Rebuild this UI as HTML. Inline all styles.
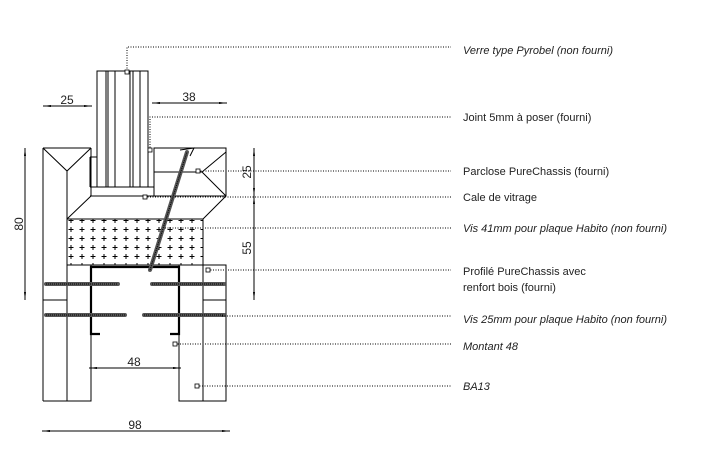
<!DOCTYPE html>
<html><head><meta charset="utf-8"><style>
html,body{margin:0;padding:0;background:#fff;}
svg{display:block}
text{font-family:"Liberation Sans",sans-serif;fill:#222;}
.l{font-size:11px;}
</style></head><body>
<svg width="715" height="458" viewBox="0 0 715 458" xmlns="http://www.w3.org/2000/svg">
<defs>
<pattern id="cr" width="11" height="9" patternUnits="userSpaceOnUse">
<path d="M5 2v5M2.5 4.5h5" stroke="#000" stroke-width="1"/>
</pattern>
<marker id="a" markerWidth="8" markerHeight="6" refX="8" refY="3" orient="auto"><path d="M0,2 L8,3 L0,4z" fill="#000"/></marker>
</defs>
<g fill="none" stroke="#000" stroke-width="1">
<!-- glass -->
<rect x="97" y="71" width="51" height="116"/>
<path d="M106 71V187M108 71V187M115 71V187M130 71V187M133 71V187M140 71V187"/>
<!-- left top block -->
<path d="M43 148H91M43 148L67 171L91 148M43 148V401M67 171V401M91 148V196"/>
<!-- joint left small -->
<path d="M90 157H97M90 157V187"/>
<!-- right parclose -->
<rect x="154" y="148" width="72" height="48"/>
<path d="M154 172H202M202 172L226 152M202 172L226 196"/>
<path d="M90 187H154M90 196H226"/>
<!-- trapezoid -->
<path d="M91 196L67 219M226 196L203 219"/>
<!-- insulation -->
<rect x="67" y="219" width="136" height="46" fill="url(#cr)"/>
<!-- lower panels -->
<path d="M43 401H91V265M67 265V401M179 265V401H226V300M203 265V401M203 265H226V300"/>
<path d="M43 300H67M203 300H226"/>
</g>
<!-- profile U -->
<path d="M100 334H91V267H179V334H170" fill="none" stroke="#000" stroke-width="2.2"/>
<!-- screws -->
<g stroke="#555" stroke-width="4" stroke-linecap="round">
<path d="M46 284H118M152 284H224M46 315H125M144 315H224"/>
<path d="M150 270L187 152"/>
</g>
<g stroke="#000" stroke-width="1" stroke-dasharray="1 1">
<path d="M46 284H118M152 284H224M46 315H125M144 315H224"/>
<path d="M150 270L187 152"/>
</g>
<path d="M180 150L194 148L190 156" fill="none" stroke="#000"/>
<!-- dimensions -->
<g stroke="#000" stroke-width="1" fill="none">
<path d="M92 106H43" marker-end="url(#a)"/><path d="M43 106H92" marker-end="url(#a)"/>
<path d="M152 103H227" marker-end="url(#a)"/><path d="M227 103H152" marker-end="url(#a)"/>
<path d="M25 224V148" marker-end="url(#a)"/><path d="M25 224V300" marker-end="url(#a)"/>
<path d="M254 172V148" marker-end="url(#a)"/><path d="M254 172V196" marker-end="url(#a)"/>
<path d="M254 248V196" marker-end="url(#a)"/><path d="M254 248V300" marker-end="url(#a)"/>
<path d="M135 368H89" marker-end="url(#a)"/><path d="M135 368H181" marker-end="url(#a)"/>
<path d="M136 431H42" marker-end="url(#a)"/><path d="M136 431H230" marker-end="url(#a)"/>
</g>
<g font-size="12" text-anchor="middle">
<text x="67" y="104">25</text>
<text x="189" y="101">38</text>
<text x="134" y="366">48</text>
<text x="135" y="429">98</text>
<text transform="translate(23,224) rotate(-90)">80</text>
<text transform="translate(251,172) rotate(-90)">25</text>
<text transform="translate(251,248) rotate(-90)">55</text>
</g>
<!-- leaders -->
<g stroke="#000" stroke-width="1" stroke-dasharray="1 1.5" fill="none">
<path d="M127 71V47H451"/>
<path d="M150 150V117H451"/>
<path d="M198 171H451"/>
<path d="M145 197H451"/>
<path d="M165 228H451"/>
<path d="M208 270H451"/>
<path d="M222 316H451"/>
<path d="M175 344H451"/>
<path d="M197 386H451"/>
</g>
<g fill="#fff" stroke="#000" stroke-width="0.8">
<rect x="125" y="70" width="4" height="4"/><rect x="148" y="148" width="4" height="4"/>
<rect x="196" y="169" width="4" height="4"/><rect x="143" y="195" width="4" height="4"/>
<rect x="206" y="268" width="4" height="4"/><rect x="173" y="342" width="4" height="4"/>
<rect x="195" y="384" width="4" height="4"/>
</g>
<g class="l">
<text x="463" y="54" font-style="italic">Verre type Pyrobel (non fourni)</text>
<text x="463" y="121">Joint 5mm à poser (fourni)</text>
<text x="463" y="175">Parclose PureChassis (fourni)</text>
<text x="463" y="201">Cale de vitrage</text>
<text x="463" y="232" font-style="italic">Vis 41mm pour plaque Habito (non fourni)</text>
<text x="463" y="275">Profilé PureChassis avec</text>
<text x="463" y="291">renfort bois (fourni)</text>
<text x="463" y="323" font-style="italic">Vis 25mm pour plaque Habito (non fourni)</text>
<text x="463" y="350" font-style="italic">Montant 48</text>
<text x="463" y="390" font-style="italic">BA13</text>
</g>
</svg>
</body></html>
